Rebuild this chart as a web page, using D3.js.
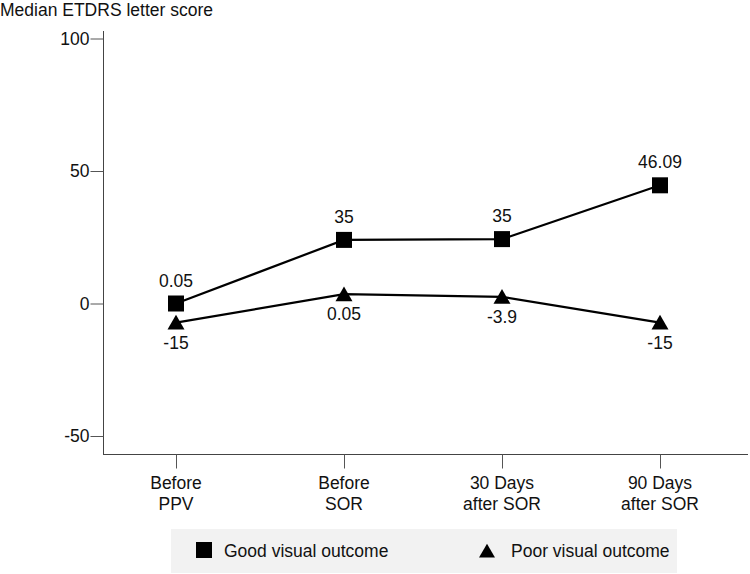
<!DOCTYPE html>
<html><head><meta charset="utf-8">
<script src="https://cdn.jsdelivr.net/npm/d3@7"></script>
<style>body{margin:0;background:#fff}svg{display:block;font-family:"Liberation Sans",Arial,sans-serif}</style>
</head><body><svg id="c" width="750" height="574"></svg>
<script>
const categories = [["Before","PPV"],["Before","SOR"],["30 Days","after SOR"],["90 Days","after SOR"]];
const goodValues = [0, 24.0, 24.3, 44.6];
const goodLabels = ["0.05","35","35","46.09"];
const poorValues = [-7.2, 3.5, 2.5, -7.2];
const poorLabels = ["-15","0.05","-3.9","-15"];
const yTicks = [100, 50, 0, -50];
const legendItems = ["Good visual outcome","Poor visual outcome"];

const FS = 17.5;
const svg = d3.select("#c");
const y = d3.scaleLinear().domain([-50, 100]).range([436, 38.5]);
const x = d3.scaleLinear().domain([0, 1, 3]).range([176, 344, 660]);

svg.append("text").attr("x",0).attr("y",16).attr("font-size",FS).attr("fill","#111").text("Median ETDRS letter score");

// y axis
const yAx = svg.append("g").attr("transform","translate(103.5,0)")
  .call(d3.axisLeft(y).tickValues(yTicks).tickSize(13).tickPadding(1).tickFormat(d=>String(d)));
yAx.select(".domain").attr("d","M0,31V455").attr("stroke","#444");
yAx.selectAll(".tick line").attr("stroke","#555");
yAx.selectAll(".tick text").attr("font-size",FS).attr("fill","#111").attr("font-family","Liberation Sans, Arial, sans-serif");

// x axis
const xAx = svg.append("g").attr("transform","translate(0,454.5)")
  .call(d3.axisBottom(x).tickValues(d3.range(categories.length)).tickSize(14).tickFormat(""));
xAx.select(".domain").attr("d","M103,0H748").attr("stroke","#444");
xAx.selectAll(".tick line").attr("stroke","#555");
categories.forEach((c,i)=>{
  const t = svg.append("text").attr("text-anchor","middle").attr("font-size",FS).attr("fill","#111");
  c.forEach((line,j)=>t.append("tspan").attr("x",x(i)).attr("y",489+j*20.5).text(line));
});

const line = d3.line().x((d,i)=>x(i)).y(d=>y(d));
svg.append("path").datum(goodValues).attr("d",line).attr("fill","none").attr("stroke","#000").attr("stroke-width",2.2);
svg.append("path").datum(poorValues).attr("d",line).attr("fill","none").attr("stroke","#000").attr("stroke-width",2.2);

const sq = 16;
svg.selectAll(".sq").data(goodValues).join("rect")
  .attr("x",(d,i)=>x(i)-sq/2).attr("y",d=>y(d)-sq/2).attr("width",sq).attr("height",sq).attr("fill","#000");
const tri = d3.symbol().type(d3.symbolTriangle).size(125);
svg.selectAll(".tr").data(poorValues).join("path")
  .attr("d",tri).attr("transform",(d,i)=>`translate(${x(i)},${y(d)+2})`).attr("fill","#000");

svg.selectAll(".gl").data(goodValues).join("text")
  .attr("x",(d,i)=>x(i)).attr("y",d=>y(d)-17).attr("text-anchor","middle")
  .attr("font-size",FS).attr("fill","#111").text((d,i)=>goodLabels[i]);
svg.selectAll(".pl").data(poorValues).join("text")
  .attr("x",(d,i)=>x(i)).attr("y",d=>y(d)+26).attr("text-anchor","middle")
  .attr("font-size",FS).attr("fill","#111").text((d,i)=>poorLabels[i]);

// legend
svg.append("rect").attr("x",171).attr("y",529).attr("width",506).attr("height",44).attr("fill","#f2f2f2");
svg.append("rect").attr("x",196).attr("y",542).attr("width",16).attr("height",16).attr("fill","#000");
svg.append("text").attr("x",224).attr("y",557).attr("font-size",FS).attr("fill","#111").text(legendItems[0]);
svg.append("path").attr("d",d3.symbol().type(d3.symbolTriangle).size(110)()).attr("transform","translate(487,553)").attr("fill","#000");
svg.append("text").attr("x",511).attr("y",557).attr("font-size",FS).attr("fill","#111").text(legendItems[1]);
</script></body></html>
